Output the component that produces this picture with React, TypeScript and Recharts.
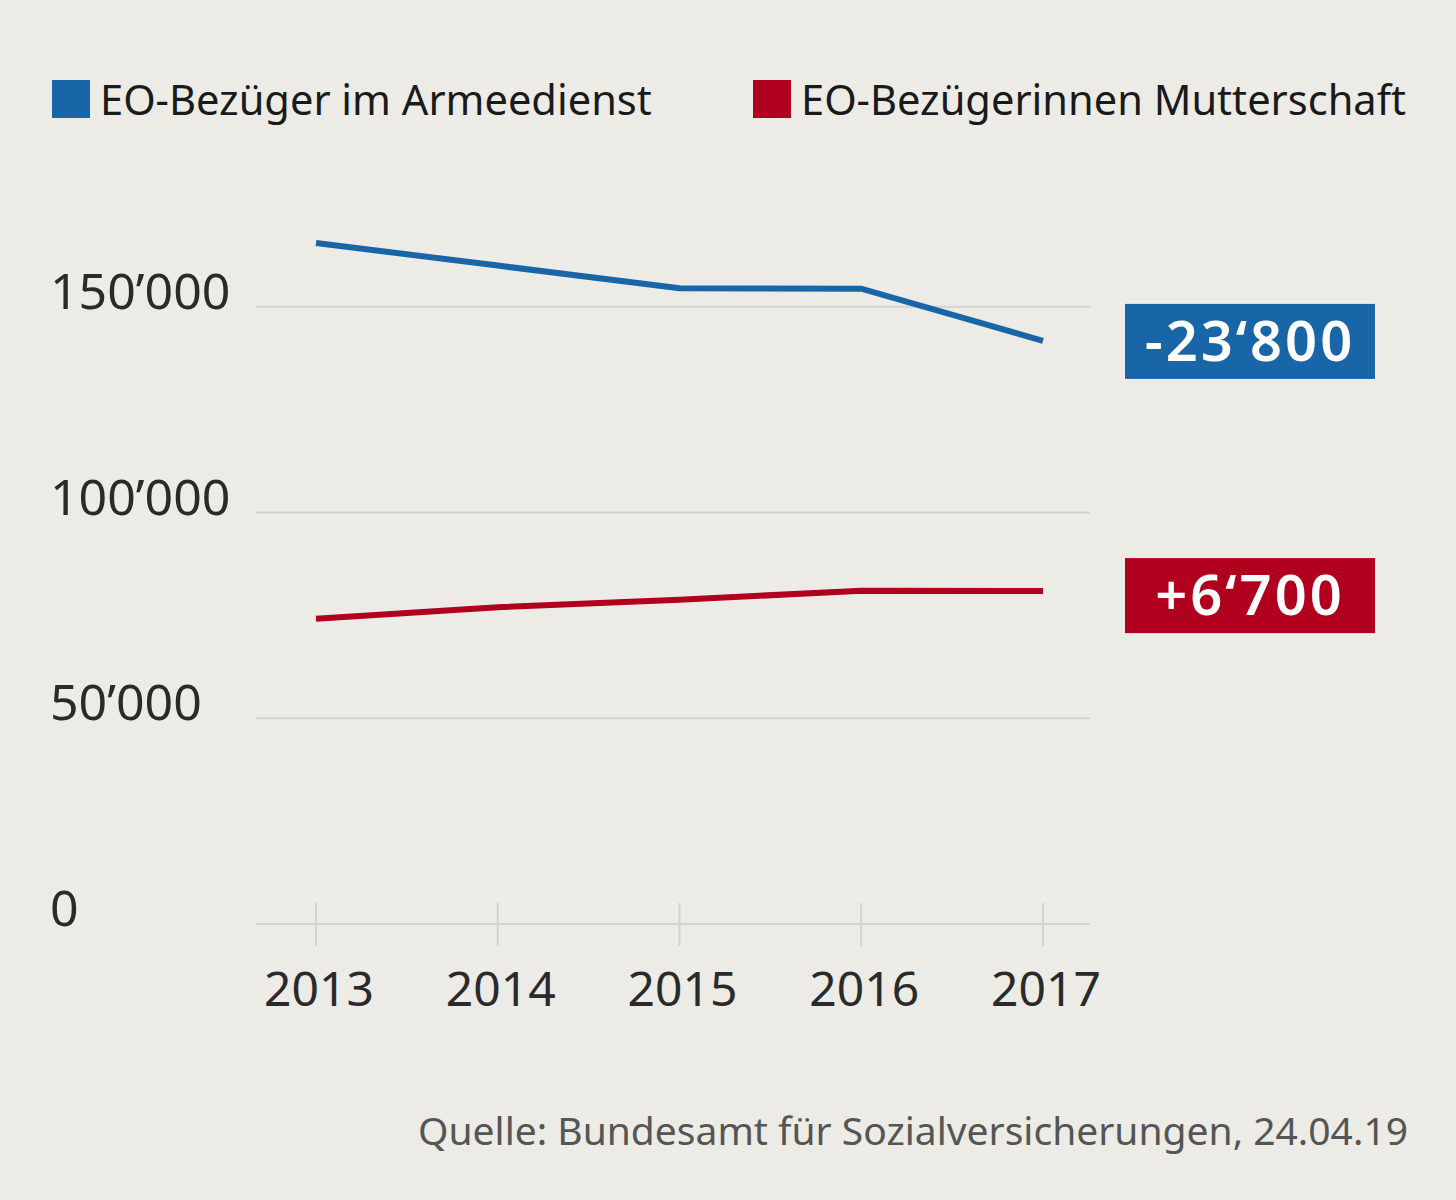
import {
  LineChart,
  Line,
  XAxis,
  YAxis,
  ReferenceLine,
  LabelList,
} from "recharts";

const years = ["2013", "2014", "2015", "2016", "2017"];
const armeedienst = [165500, 160000, 154500, 154400, 141700];
const mutterschaft = [74200, 77000, 78800, 81000, 80900];
const yTicks = [0, 50000, 100000, 150000];
const changeLabels = ["-23‘800", "+6‘700"];
const seriesNames = ["EO-Bezüger im Armeedienst", "EO-Bezügerinnen Mutterschaft"];

const BLUE = "#1866a7";
const RED = "#b0001e";
const GRID = "#d2d2d0";
const FONT = "'Noto Sans', 'Open Sans', sans-serif";

const data = years.map((year, i) => ({
  year,
  armee: armeedienst[i],
  mutter: mutterschaft[i],
}));

const fmt = (v: number) =>
  v === 0 ? "0" : `${Math.floor(v / 1000)}’${String(v % 1000).padStart(3, "0")}`;

const YTick = (props: any) => {
  const { y, payload } = props;
  return (
    <text x={50} y={y + 2} fill="#2a2a2a" fontSize={50} fontFamily={FONT} textAnchor="start">
      {fmt(payload.value)}
    </text>
  );
};

const XTick = (props: any) => {
  const { x, y, payload } = props;
  return (
    <g>
      <line x1={x} x2={x} y1={y - 21} y2={y + 22} stroke={GRID} strokeWidth={2} />
      <text x={x + 3} y={y + 82} fill="#2a2a2a" fontSize={48} fontFamily={FONT} textAnchor="middle">
        {payload.value}
      </text>
    </g>
  );
};

// box with the change 2013 -> 2017, drawn next to the last point
const changeBox = (text: string, color: string, dy: number) => (props: any) => {
  const { x, y, index } = props;
  if (index !== years.length - 1) return null;
  return (
    <g>
      <rect x={x + 82} y={y - 37 + dy} width={250} height={75} fill={color} />
      <text
        x={x + 82 + 125}
        y={y + 20 + dy}
        fill="#fff"
        fontSize={56}
        fontWeight={600}
        letterSpacing={3}
        fontFamily={FONT}
        textAnchor="middle"
      >
        {text}
      </text>
    </g>
  );
};

export default function App() {
  return (
    <div style={{ position: "relative", width: 1456, height: 1200, background: "#ecebe6" }}>
      <style>{"body{margin:0}"}</style>
      {[BLUE, RED].map((c, i) => (
        <div
          key={i}
          style={{
            position: "absolute",
            left: i === 0 ? 52 : 753,
            top: 80,
            display: "flex",
            alignItems: "center",
            fontFamily: FONT,
            fontSize: 41.6,
            color: "#1a1a1a",
          }}
        >
          <div style={{ width: 38, height: 38, background: c, marginRight: 10 }} />
          <span style={{ lineHeight: "38px" }}>{seriesNames[i]}</span>
        </div>
      ))}
      <LineChart
        width={1456}
        height={1200}
        data={data}
        margin={{ top: 101, right: 366, bottom: 0, left: 0 }}
      >
        <XAxis
          dataKey="year"
          height={276}
          axisLine={false}
          tickLine={false}
          tickSize={0}
          tickMargin={0}
          padding={{ left: 60, right: 47 }}
          tick={<XTick />}
          interval={0}
        />
        <YAxis
          width={256}
          domain={[0, 200000]}
          ticks={yTicks}
          axisLine={false}
          tickLine={false}
          tick={<YTick />}
        />
        {yTicks.map((t) => (
          <ReferenceLine key={t} y={t} stroke={GRID} strokeWidth={2} />
        ))}
        <Line
          dataKey="armee"
          stroke={BLUE}
          strokeWidth={6}
          dot={false}
          strokeLinecap="butt"
          strokeLinejoin="miter"
          isAnimationActive={false}
        >
          <LabelList dataKey="armee" content={changeBox(changeLabels[0], BLUE, 0)} />
        </Line>
        <Line
          dataKey="mutter"
          stroke={RED}
          strokeWidth={6}
          dot={false}
          strokeLinecap="butt"
          strokeLinejoin="miter"
          isAnimationActive={false}
        >
          <LabelList dataKey="mutter" content={changeBox(changeLabels[1], RED, 4)} />
        </Line>
      </LineChart>
      <div
        style={{
          position: "absolute",
          right: 48,
          top: 1103,
          fontFamily: FONT,
          fontSize: 39,
          color: "#555",
        }}
      >
        Quelle: Bundesamt für Sozialversicherungen, 24.04.19
      </div>
    </div>
  );
}
